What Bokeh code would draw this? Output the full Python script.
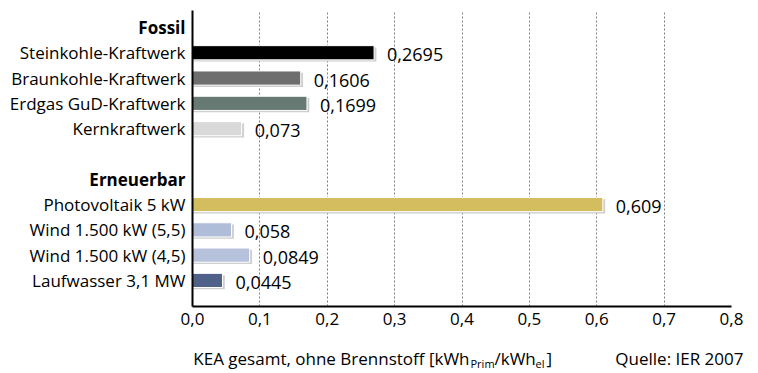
from bokeh.plotting import figure
from bokeh.models import ColumnDataSource, LabelSet, Range1d, FixedTicker
from bokeh.core.properties import value
from bokeh.transform import dodge
from bokeh.embed import file_html
from bokeh.resources import INLINE

# Kumulierter Energieaufwand (ohne Brennstoff) je Kraftwerkstyp
group_titles = ["Fossil", "Erneuerbar"]

fossil_names = ["Steinkohle-Kraftwerk", "Braunkohle-Kraftwerk",
                "Erdgas GuD-Kraftwerk", "Kernkraftwerk"]
fossil_values = [0.2695, 0.1606, 0.1699, 0.073]
fossil_colors = ["#000000", "#6e6e6e", "#667a73", "#d9d9d9"]

renew_names = ["Photovoltaik 5 kW", "Wind 1.500 kW (5,5)",
               "Wind 1.500 kW (4,5)", "Laufwasser 3,1 MW"]
renew_values = [0.609, 0.058, 0.0849, 0.0445]
renew_colors = ["#d3bd5e", "#b0bdd8", "#b6c1dc", "#4f6189"]

x_ticks = [0.0, 0.1, 0.2, 0.3, 0.4, 0.5, 0.6, 0.7, 0.8]

axis_title = ["KEA gesamt, ohne Brennstoff [kWh", "Prim", "/kWh", "el", "]"]
source_note = "Quelle: IER 2007"

FONT = "Open Sans"

# Row layout (top to bottom): group title, its items, a gap row, next group
names, values, colors, rows = [], [], [], []
header_rows = []
r = 0
for title, n_list, v_list, c_list in [
        (group_titles[0], fossil_names, fossil_values, fossil_colors),
        (group_titles[1], renew_names, renew_values, renew_colors)]:
    header_rows.append(-r)
    r += 1
    for n, v, c in zip(n_list, v_list, c_list):
        names.append(n)
        values.append(v)
        colors.append(c)
        rows.append(-r)
        r += 1
    r += 1  # gap between groups

src = ColumnDataSource(dict(
    y=rows, value=values, name=names, color=colors,
    label=[str(v).replace(".", ",") for v in values],
    zero=[0.0] * len(values),
))
hdr = ColumnDataSource(dict(y=header_rows, name=group_titles,
                            zero=[0.0] * len(group_titles)))

Y0, Y1 = -11.03, 0.67
p = figure(width=758, height=373, output_backend="svg",
           toolbar_location=None, x_range=Range1d(0, 0.8),
           y_range=Range1d(Y0, Y1),
           min_border_left=192, min_border_right=27,
           min_border_top=10, min_border_bottom=67)
p.outline_line_color = None

# light drop shadow behind each bar
p.hbar(y=dodge("y", -0.07), left=0, right=dodge("value", 0.0035), height=0.56,
       source=src, fill_color="#cfcfcf", line_color=None)
p.hbar(y="y", left=0, right="value", height=0.56, source=src,
       fill_color="color", line_color="white", line_width=1)

p.ygrid.grid_line_color = None
p.xgrid.ticker = FixedTicker(ticks=x_ticks)
p.xgrid.grid_line_color = "#7f7f7f"
p.xgrid.grid_line_dash = "2 2"
p.xgrid.grid_line_width = 1

p.xaxis.ticker = FixedTicker(ticks=x_ticks)
p.xaxis.major_label_overrides = {t: f"{t:.1f}".replace(".", ",") for t in x_ticks}
p.xaxis.axis_line_color = "black"
p.xaxis.axis_line_width = 2
p.xaxis.major_tick_line_color = None
p.xaxis.major_tick_out = 0
p.xaxis.major_tick_in = 0
p.xaxis.minor_tick_line_color = None
p.xaxis.major_label_standoff = 6
p.xaxis.major_label_text_font = FONT
p.xaxis.major_label_text_font_size = "17px"
p.xaxis.major_label_text_color = "black"

p.yaxis.axis_line_color = "black"
p.yaxis.axis_line_width = 2
p.yaxis.major_tick_line_color = None
p.yaxis.minor_tick_line_color = None
p.yaxis.major_tick_out = 0
p.yaxis.major_tick_in = 0
p.yaxis.major_label_standoff = 0
p.yaxis.major_label_text_color = None
p.yaxis.major_label_text_font_size = "0px"

# category labels left of the axis (overlay level, so not clipped to the frame)
p.text(x="zero", y="y", text="name", source=src, x_offset=-7,
       text_align="right", text_baseline="middle", text_font=value(FONT),
       text_font_size="17px", text_color="black", level="overlay")
p.text(x="zero", y="y", text="name", source=hdr, x_offset=-7,
       text_align="right", text_baseline="middle", text_font=value(FONT),
       text_font_size="17px", text_font_style="bold", text_color="black",
       level="overlay")

# value labels right of each bar
p.add_layout(LabelSet(x="value", y="y", text="label", source=src, x_offset=13,
                      y_offset=-2, text_align="left", text_baseline="middle",
                      text_font=value(FONT), text_font_size=value("18px"),
                      text_color="black"))

# axis title with subscripts, and the source note, below the tick labels
row_px = 296 / (Y1 - Y0)          # frame height in px per row unit
title_y = Y0 - 52 / row_px
sub_y = Y0 - 57 / row_px
common = dict(text_baseline="middle", text_font=value(FONT),
              text_color="black", level="overlay")
p.text(x=[0], y=[title_y], text=[axis_title[0]], x_offset=277,
       text_align="right", text_font_size="17px", **common)
p.text(x=[0], y=[sub_y], text=[axis_title[1]], x_offset=278,
       text_align="left", text_font_size="11px", **common)
p.text(x=[0], y=[title_y], text=[axis_title[2]], x_offset=302,
       text_align="left", text_font_size="17px", **common)
p.text(x=[0], y=[sub_y], text=[axis_title[3]], x_offset=343,
       text_align="left", text_font_size="11px", **common)
p.text(x=[0], y=[title_y], text=[axis_title[4]], x_offset=354,
       text_align="left", text_font_size="17px", **common)
p.text(x=[0.8], y=[title_y], text=[source_note], x_offset=12,
       text_align="right", text_font_size="17px", **common)

open("out.html", "w").write(file_html(p, INLINE))
